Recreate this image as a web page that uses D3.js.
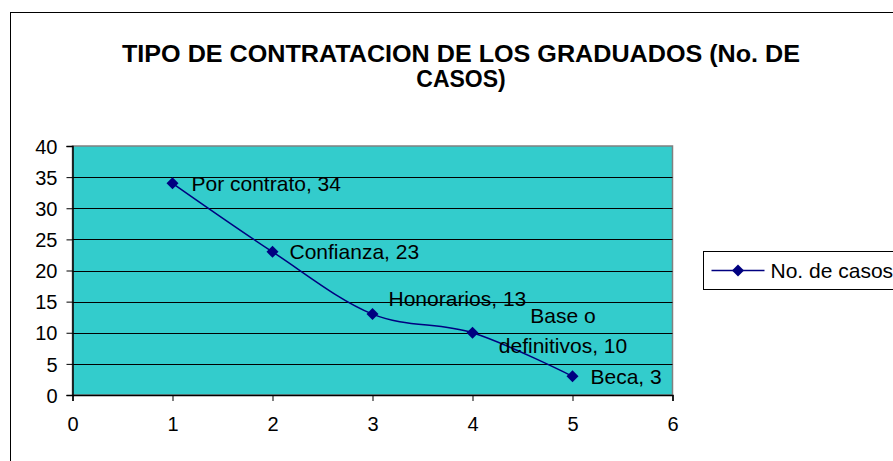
<!DOCTYPE html>
<html>
<head>
<meta charset="utf-8">
<script src="https://cdn.jsdelivr.net/npm/d3@7"></script>
<style>
  body { margin: 0; background: #fff; }
  text { font-family: "Liberation Sans", Arial, sans-serif; }
</style>
</head>
<body>
<div id="chart-area"></div>
<script>
const W = 893, H = 461
const MARGIN = { LEFT: 72.5, RIGHT: 220.5, TOP: 146, BOTTOM: 66 }
const WIDTH = W - MARGIN.LEFT - MARGIN.RIGHT
const HEIGHT = H - MARGIN.TOP - MARGIN.BOTTOM

// data
const xValues = [1, 2, 3, 4, 5]
const casos = [34, 23, 13, 10, 3]
const labels = ["Por contrato, 34", "Confianza, 23", "Honorarios, 13", "Base o|definitivos, 10", "Beca, 3"]
const xTicks = [0, 1, 2, 3, 4, 5, 6]
const yTicks = [0, 5, 10, 15, 20, 25, 30, 35, 40]
const seriesName = "No. de casos"
const titleLines = ["TIPO DE CONTRATACION DE LOS GRADUADOS (No. DE", "CASOS)"]

const svg = d3.select("#chart-area").append("svg")
  .attr("width", W)
  .attr("height", H)

// chart border (runs off the right/bottom edge)
svg.append("rect")
  .attr("x", 10.5).attr("y", 12.5)
  .attr("width", W + 20).attr("height", H + 20)
  .attr("fill", "#fff")
  .attr("stroke", "#000")
  .attr("stroke-width", 1)

// title
svg.selectAll(".title")
  .data(titleLines)
  .enter().append("text")
  .attr("class", "title")
  .attr("x", 461)
  .attr("y", (d, i) => 62 + i * 25)
  .attr("text-anchor", "middle")
  .attr("font-size", "23px")
  .attr("font-weight", "bold")
  .attr("textLength", (d, i) => i === 0 ? 678 : null)
  .attr("lengthAdjust", "spacingAndGlyphs")
  .text(d => d)

const g = svg.append("g")
  .attr("transform", `translate(${MARGIN.LEFT}, ${MARGIN.TOP})`)

// scales
const x = d3.scaleLinear().domain([0, 6]).range([0, WIDTH])
const y = d3.scaleLinear().domain([0, 40]).range([HEIGHT, 0])

// plot area
g.append("rect")
  .attr("width", WIDTH)
  .attr("height", HEIGHT)
  .attr("fill", "#33CCCC")
  .attr("stroke", "#808080")
  .attr("stroke-width", 1.5)

// gridlines
g.selectAll(".grid")
  .data(yTicks.filter(d => d > 0 && d < 40))
  .enter().append("line")
  .attr("class", "grid")
  .attr("x1", 0).attr("x2", WIDTH)
  .attr("y1", d => Math.round(y(d)) + 0.5)
  .attr("y2", d => Math.round(y(d)) + 0.5)
  .attr("stroke", "#000")
  .attr("stroke-width", 1)

// axes
const xAxisCall = d3.axisBottom(x).tickValues(xTicks).tickFormat(d3.format("d")).tickSize(6).tickPadding(16)
const yAxisCall = d3.axisLeft(y).tickValues(yTicks).tickFormat(d3.format("d")).tickSize(6).tickPadding(9)

const xAxis = g.append("g")
  .attr("transform", `translate(0, ${HEIGHT})`)
  .call(xAxisCall)
const yAxis = g.append("g")
  .call(yAxisCall)

;[xAxis, yAxis].forEach(a => {
  a.attr("font-size", null).attr("font-family", null)
  a.select(".domain").attr("stroke", "#000").attr("stroke-width", 1.5)
  a.selectAll(".tick line").attr("stroke", "#000")
  a.selectAll(".tick text")
    .style("font-size", "20px")
    .attr("fill", "#000")
})
yAxis.selectAll(".tick text").attr("dy", "0.36em")

// line
const points = xValues.map((d, i) => ({ x: d, y: casos[i], label: labels[i] }))

const line = d3.line()
  .x(d => x(d.x))
  .y(d => y(d.y))
  .curve(d3.curveCatmullRom.alpha(0))

g.append("path")
  .attr("d", line(points))
  .attr("fill", "none")
  .attr("stroke", "#000080")
  .attr("stroke-width", 1.5)

const diamond = d3.symbol().type(d3.symbolSquare).size(72)

g.selectAll(".marker")
  .data(points)
  .enter().append("path")
  .attr("class", "marker")
  .attr("d", diamond)
  .attr("transform", d => `translate(${x(d.x)}, ${y(d.y)}) rotate(45)`)
  .attr("fill", "#000080")

// data labels
const labelOffsets = [[19, 0], [17, 0], [16, -16], [90.5, -17], [18, 0]]
points.forEach((d, i) => {
  const parts = d.label.split("|")
  const [dx, dy] = labelOffsets[i]
  const t = g.append("text")
    .style("font-size", "21px")
    .attr("fill", "#000")
  if (parts.length === 1) {
    t.attr("x", x(d.x) + dx).attr("y", y(d.y) + dy).attr("dy", "0.36em").text(d.label)
  } else {
    t.attr("text-anchor", "middle")
    parts.forEach((p, j) => {
      t.append("tspan")
        .attr("x", x(d.x) + dx)
        .attr("y", y(d.y) + dy + j * 30)
        .attr("dy", "0.36em")
        .text(p)
    })
  }
})

// legend
const legend = svg.append("g").attr("transform", "translate(703.5, 251.5)")
legend.append("rect")
  .attr("width", 220).attr("height", 38)
  .attr("fill", "#fff")
  .attr("stroke", "#000")
legend.append("line")
  .attr("x1", 8).attr("x2", 61)
  .attr("y1", 19).attr("y2", 19)
  .attr("stroke", "#000080")
  .attr("stroke-width", 1.5)
legend.append("path")
  .attr("d", diamond)
  .attr("transform", "translate(34.5, 19) rotate(45)")
  .attr("fill", "#000080")
legend.append("text")
  .attr("x", 67).attr("y", 19)
  .attr("dy", "0.36em")
  .style("font-size", "21px")
  .text(seriesName)
</script>
</body>
</html>
